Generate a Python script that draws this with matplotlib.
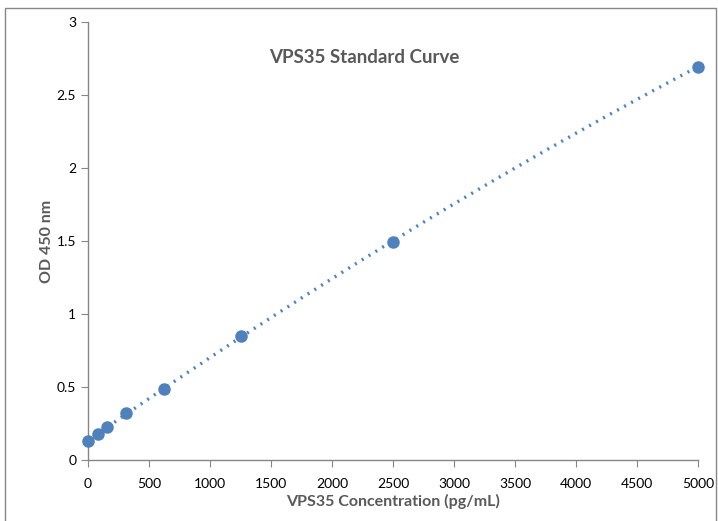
import matplotlib.pyplot as plt
import numpy as np

# standard curve data
conc = [0, 78, 156, 312, 625, 1250, 2500, 5000]
od = [0.13, 0.175, 0.225, 0.32, 0.485, 0.85, 1.495, 2.695]
x_ticks = [0, 500, 1000, 1500, 2000, 2500, 3000, 3500, 4000, 4500, 5000]
y_ticks = [0, 0.5, 1, 1.5, 2, 2.5, 3]
y_tick_labels = ['0', '0.5', '1', '1.5', '2', '2.5', '3']

plt.rcParams['font.family'] = ['Lato', 'DejaVu Sans']
blue = '#4F81BD'
grey = '#595959'

fig = plt.figure(figsize=(7.18, 5.21), dpi=100)
ax = fig.add_axes([0.1226, 0.1171, 0.8495, 0.8407])

# polynomial trendline (2nd order)
coef = np.polyfit(conc, od, 2)
xs = np.linspace(0, 5000, 200)
ax.plot(xs, np.polyval(coef, xs), color=blue, lw=2.4,
        linestyle=(0, (0.6, 1.8)), dash_capstyle='butt', zorder=2)
ax.plot(conc, od, 'o', color=blue, ms=8, zorder=3, clip_on=False)

ax.set_xlim(0, 5000)
ax.set_ylim(0, 3)
ax.set_xticks(x_ticks)
ax.set_yticks(y_ticks)
ax.set_yticklabels(y_tick_labels)
for s in ['top', 'right']:
    ax.spines[s].set_visible(False)
for s in ['left', 'bottom']:
    ax.spines[s].set_color('#868686')
    ax.spines[s].set_linewidth(1)
ax.tick_params(colors='#868686', labelcolor='black', labelsize=10, length=5)
ax.tick_params(axis='x', pad=8)

fig.text(0.508, 0.889, 'VPS35 Standard Curve', ha='center', va='center',
         fontsize=13.5, fontweight='bold', color=grey)
ax.set_xlabel('VPS35 Concentration (pg/mL)', fontsize=11.5, fontweight='bold',
              color=grey, labelpad=3)
ax.set_ylabel('OD 450 nm', fontsize=11.5, fontweight='bold', color=grey,
              labelpad=2)

# outer chart border
fig.patches.append(plt.Rectangle((0.007, -0.01), 0.99, 0.995,
                                 transform=fig.transFigure, fill=False,
                                 edgecolor='#868686', lw=1))

fig.savefig('out.png', dpi=100)
